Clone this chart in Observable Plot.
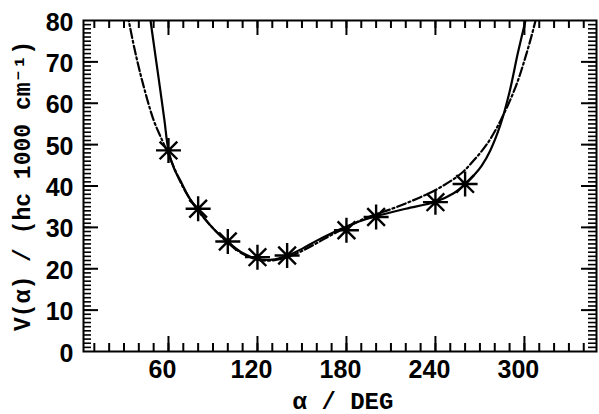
<!DOCTYPE html>
<html>
<head>
<meta charset="utf-8">
<script src="https://cdn.jsdelivr.net/npm/d3@7"></script>
<script src="https://cdn.jsdelivr.net/npm/@observablehq/plot@0.6"></script>
<style>
  html, body { margin: 0; padding: 0; background: #fff; }
</style>
</head>
<body>
<div id="chart"></div>
<script>
// Observed points (asterisks)
const obsAlpha = [60, 80, 100, 120, 140, 180, 200, 240, 260];
const obsV = [48.6, 34.5, 26.6, 22.8, 23.2, 29.3, 32.5, 36.1, 40.5];

// Solid curve
const solidAlpha = [45, 47.9, 51, 54.2, 57.3, 60, 64, 68, 73.7, 80, 90, 100, 110, 120, 130, 140, 150, 160, 170, 180, 190, 200, 220, 240, 252, 260, 266, 271, 277, 284, 290, 295.5, 300.7, 303];
const solidV = [88, 80, 72, 63.9, 55.8, 48.6, 44, 41.3, 37.3, 34.2, 29.8, 26.5, 23.8, 22.4, 22.2, 23.2, 24.8, 26.8, 28.6, 30.2, 31.6, 32.7, 34.5, 36.2, 38.2, 40.4, 42.6, 44.8, 48.6, 55, 62.8, 72, 80, 84];

// Dash-dot curve
const dashAlpha = [30, 33.2, 37.8, 43.4, 50.1, 55.8, 60, 70, 80, 90, 100, 110, 120, 130, 140, 150, 160, 170, 180, 190, 200, 210, 229.9, 243.4, 256.9, 265.9, 274.9, 283.9, 294, 301.4, 307.5, 310];
const dashV = [86, 80, 72, 63.9, 55.8, 51, 47.6, 39.6, 34, 29.8, 26.3, 23.6, 22.2, 22, 22.8, 24.3, 26.2, 28.2, 30, 31.8, 33.2, 34.4, 37.3, 39.7, 42.9, 46.2, 50.2, 55.8, 63.9, 72, 80, 84];

// Axis ticks and labels
const xMinorTicks = d3.range(10, 341, 10);
const xMajorTicks = [60, 120, 180, 240, 300];
const yMinorTicks = d3.range(1, 80, 1);
const yMajorTicks = d3.range(10, 80, 10);
const yLabels = [0, 10, 20, 30, 40, 50, 60, 70, 80];
const xTitle = "α / DEG";
const yTitle = "V(α) / (hc 1000 cm⁻¹)";

const obs = obsAlpha.map((a, i) => ({a, v: obsV[i]}));
const solid = solidAlpha.map((a, i) => ({a, v: solidV[i]}));
const dash = dashAlpha.map((a, i) => ({a, v: dashV[i]}));

const W = 599, H = 414;
const mL = 83, mR = 3, mT = 20, mB = 63;
const pw = W - mL - mR, ph = H - mT - mB;

const numFont = "'Liberation Sans', Arial, sans-serif";
const titleFont = "'Liberation Mono', 'DejaVu Sans Mono', monospace";

const asterisk8 = {
  draw(context, size) {
    const r = Math.sqrt(size / Math.PI);
    const d = r * Math.SQRT1_2;
    context.moveTo(-r, 0); context.lineTo(r, 0);
    context.moveTo(0, -r); context.lineTo(0, r);
    context.moveTo(-d, -d); context.lineTo(d, d);
    context.moveTo(-d, d); context.lineTo(d, -d);
  }
};

const minorLen = 8, majorLen = 15;

const chart = Plot.plot({
  width: W, height: H,
  marginLeft: mL, marginRight: mR, marginTop: mT, marginBottom: mB,
  x: {domain: [2.7, 348.6], axis: null},
  y: {domain: [0, 80], axis: null},
  style: {background: "#fff", color: "#000"},
  marks: [
    // ticks (inward, all four sides)
    Plot.tickX(xMinorTicks, {x: d => d, insetTop: ph - minorLen, stroke: "#000", strokeWidth: 2}),
    Plot.tickX(xMinorTicks, {x: d => d, insetBottom: ph - minorLen, stroke: "#000", strokeWidth: 2}),
    Plot.tickX(xMajorTicks, {x: d => d, insetTop: ph - majorLen, stroke: "#000", strokeWidth: 2}),
    Plot.tickX(xMajorTicks, {x: d => d, insetBottom: ph - majorLen, stroke: "#000", strokeWidth: 2}),
    Plot.tickY(yMinorTicks, {y: d => d, insetRight: pw - minorLen, stroke: "#000", strokeWidth: 1.6}),
    Plot.tickY(yMinorTicks, {y: d => d, insetLeft: pw - minorLen, stroke: "#000", strokeWidth: 1.6}),
    Plot.tickY(yMajorTicks, {y: d => d, insetRight: pw - majorLen, stroke: "#000", strokeWidth: 2}),
    Plot.tickY(yMajorTicks, {y: d => d, insetLeft: pw - majorLen, stroke: "#000", strokeWidth: 2}),
    Plot.frame({stroke: "#000", strokeWidth: 2}),
    // curves
    Plot.line(dash, {x: "a", y: "v", curve: "catmull-rom", stroke: "#000", strokeWidth: 2.2, strokeDasharray: "9,3,2,3", clip: true}),
    Plot.line(solid, {x: "a", y: "v", curve: "catmull-rom", stroke: "#000", strokeWidth: 2.2, clip: true}),
    // observed points
    Plot.dot(obs, {x: "a", y: "v", symbol: asterisk8, r: 12.5, stroke: "#000", strokeWidth: 2.4, fill: "none"}),
    // tick labels
    Plot.text(xMajorTicks, {x: d => d, frameAnchor: "bottom", lineAnchor: "top", dy: 9, dx: -6, text: d => String(d), fontFamily: numFont, fontWeight: "bold", fontSize: 25, fill: "#000", ariaLabel: "numlabel"}),
    Plot.text(yLabels, {y: d => d, frameAnchor: "left", textAnchor: "end", dx: -10, dy: 2, text: d => String(d), fontFamily: numFont, fontWeight: "bold", fontSize: 25, fill: "#000", ariaLabel: "numlabel"}),
    // titles
    Plot.text([xTitle], {frameAnchor: "bottom", textAnchor: "middle", dy: 57, dx: 3, text: d => d, fontFamily: titleFont, fontWeight: "bold", fontSize: 24, fill: "#000"}),
    Plot.text([yTitle], {frameAnchor: "left", textAnchor: "middle", dx: -61, rotate: -90, text: d => d, fontFamily: titleFont, fontWeight: "bold", fontSize: 23, fill: "#000"})
  ]
});
document.getElementById("chart").appendChild(chart);
// condense the numeric labels horizontally (narrow bold face look)
d3.select(chart).selectAll('g[aria-label="numlabel"] text').each(function() {
  const len = this.getComputedTextLength();
  if (len > 0) {
    this.setAttribute("textLength", (len * 0.8).toFixed(1));
    this.setAttribute("lengthAdjust", "spacingAndGlyphs");
  }
});
</script>
</body>
</html>
